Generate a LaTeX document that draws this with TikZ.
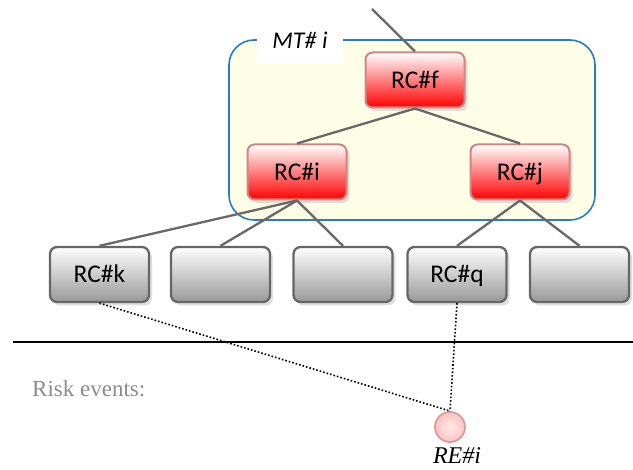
\documentclass[tikz,border=0pt]{standalone}
\usepackage{fontspec}
\setmainfont{Liberation Serif}
\newfontfamily\rcfont{Carlito}
\usetikzlibrary{shadows}
\definecolor{conn}{HTML}{686868}
\definecolor{redborder}{HTML}{CF8686}
\definecolor{grayborder}{HTML}{666666}
\definecolor{mtblue}{HTML}{2A7BC0}
\definecolor{mtfill}{HTML}{FEFEE6}
\definecolor{riskgray}{HTML}{8C8C8C}
\definecolor{reborder}{HTML}{DC9C9C}
\tikzset{
  rcbox/.style={rounded corners=7pt, minimum width=99pt, minimum height=55pt, inner sep=0pt,
    font=\rcfont\fontsize{25.5}{30}\selectfont, text height=16.4pt, text depth=0pt,
    drop shadow={shadow xshift=3pt, shadow yshift=-3.5pt, fill=black!25}},
  redbox/.style={rcbox, draw=redborder, line width=2pt, top color=white, bottom color=red},
  graybox/.style={rcbox, draw=grayborder, line width=2.3pt, top color=white, bottom color=black!40},
  connector/.style={draw=conn, line width=2.3pt},
  reline/.style={draw=black, line width=1.6pt, dotted},
}
\begin{document}
\begin{tikzpicture}[x=1pt, y=-1pt]
\useasboundingbox (0,0) rectangle (633,470);
% container
\node[draw=mtblue, line width=1.6pt, fill=mtfill, rounded corners=25pt,
      minimum width=366pt, minimum height=180pt, inner sep=0pt] (mt) at (412,130) {};
\node[fill=white, minimum width=86pt, minimum height=27pt, inner sep=0pt] (mtbg) at (300,50) {};
\node[anchor=base, font=\rcfont\itshape\fontsize{24}{28}\selectfont, inner sep=0pt] (mtlabel) at (300,49) {MT\# i};
% coordinates
\coordinate (top) at (372,9);
\coordinate (hl) at (13,342);
\coordinate (hr) at (633,342);
% nodes
\node[redbox] (f) at (415,80) {RC\#f};
\node[redbox] (i) at (297,172) {RC\#i};
\node[redbox] (j) at (520,172) {RC\#j};
\node[graybox] (k) at (99.5,274.5) {RC\#k};
\node[graybox] (b2) at (220.5,274.5) {};
\node[graybox] (b3) at (343,274.5) {};
\node[graybox] (q) at (457,274.5) {RC\#q};
\node[graybox] (b5) at (579.5,274.5) {};
% connectors
\draw[connector] (top) -- (f.north);
\draw[connector] (f.south) -- (i.north);
\draw[connector] (f.south) -- (j.north);
\draw[connector] (i.south) -- (k.north);
\draw[connector] (i.south) -- (b2.north);
\draw[connector] (i.south) -- (b3.north);
\draw[connector] (j.south) -- (q.north);
\draw[connector] (j.south) -- (b5.north);
% separator
\draw[line width=1.5pt] (hl) -- (hr);
% risk events
\node[anchor=base west, text=riskgray, font=\fontsize{23}{27}\selectfont, inner sep=0pt] (risk) at (32,397) {Risk events:};
\node[circle, minimum size=30pt, inner sep=0pt, draw=reborder, line width=1.8pt,
      inner color=red!8, outer color=red!24] (re) at (450,427) {};
\node[anchor=base, font=\itshape\fontsize{24}{28}\selectfont, inner sep=0pt] (relabel) at (457,464) {RE\#i};
\draw[reline] (k.south) -- (re.north);
\draw[reline] (q.south) -- (re.north);
\end{tikzpicture}
\end{document}
